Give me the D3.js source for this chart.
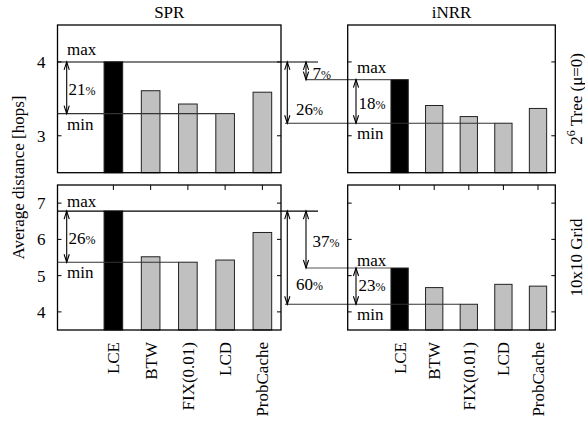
<!DOCTYPE html>
<html>
<head>
<meta charset="utf-8">
<script src="https://cdn.jsdelivr.net/npm/d3@7"></script>
<style>
  html, body { margin: 0; padding: 0; background: #fff; }
  svg { display: block; }
  text { font-family: "Liberation Serif", "Times New Roman", serif; fill: #000; }
</style>
</head>
<body>
<svg id="chart" width="585" height="428"></svg>
<script>
// ---------------- data ----------------
const categories = ["LCE", "BTW", "FIX(0.01)", "LCD", "ProbCache"];
const strategies = ["SPR", "iNRR"];
const topologies = ["2^6 Tree (μ=0)", "10x10 Grid"];

const sprTree  = [4.00, 3.61, 3.43, 3.30, 3.59];
const inrrTree = [3.76, 3.41, 3.26, 3.17, 3.37];
const sprGrid  = [6.78, 5.52, 5.37, 5.43, 6.19];
const inrrGrid = [5.21, 4.67, 4.21, 4.76, 4.71];

const treeTicks = [3, 4];
const gridTicks = [4, 5, 6, 7];
const treeDomain = [2.5, 4.5];
const gridDomain = [3.5, 7.5];

// percentage labels: [SPR max-min, iNRR max-min, SPR max vs iNRR max, SPR max vs iNRR min]
const treePercents = ["21", "18", "7", "26"];
const gridPercents = ["26", "23", "37", "60"];

// ---------------- layout ----------------
const svg = d3.select("#chart");
const colX = [{x0: 57.5, x1: 281}, {x0: 347.7, x1: 555.3}];
const rowY = [{y0: 25, y1: 172.7}, {y0: 185, y1: 330}];
const FS = 17;

const rows = [
  {vals: [sprTree, inrrTree], ticks: treeTicks, domain: treeDomain, pct: treePercents, maxOff: [7, 7]},
  {vals: [sprGrid, inrrGrid], ticks: gridTicks, domain: gridDomain, pct: gridPercents, maxOff: [4, 2.5]}
];

function arrow(g, x, ya, yb) {
  const top = Math.min(ya, yb), bot = Math.max(ya, yb);
  const h = 8, w = 2.6;
  g.append("line").attr("x1", x).attr("x2", x).attr("y1", top).attr("y2", bot)
    .attr("stroke", "#000").attr("stroke-width", 1.1);
  g.append("path")
    .attr("d", `M${x - w},${top + h}L${x},${top}L${x + w},${top + h}M${x - w},${bot - h}L${x},${bot}L${x + w},${bot - h}`)
    .attr("fill", "none").attr("stroke", "#000").attr("stroke-width", 1.1);
}

function pctText(g, x, y, num) {
  const t = g.append("text").attr("x", x).attr("y", y).style("font-size", FS + "px");
  t.append("tspan").text(num);
  t.append("tspan").style("font-size", "12px").text("%");
}

rows.forEach((row, ri) => {
  const ry = rowY[ri];
  const y = d3.scaleLinear().domain(row.domain).range([ry.y1, ry.y0]);
  const xs = colX.map(c => d3.scaleLinear().domain([-1.5, 4.5]).range([c.x0, c.x1]));
  const bws = xs.map(x => (x(1) - x(0)) * 0.5);

  const mins = row.vals.map(v => d3.min(v));
  const maxs = row.vals.map(v => d3.max(v));
  const minIdx = row.vals.map(v => v.indexOf(d3.min(v)));
  const g = svg.append("g");

  // bars
  row.vals.forEach((vals, ci) => {
    const x = xs[ci];
    g.selectAll(null).data(vals).enter().append("rect")
      .attr("x", (d, i) => x(i) - bws[ci] / 2)
      .attr("width", bws[ci])
      .attr("y", d => y(d))
      .attr("height", d => ry.y1 - y(d))
      .attr("fill", (d, i) => i === 0 ? "#000" : "#c0c0c0")
      .attr("stroke", "#222").attr("stroke-width", 1);
  });

  const xL = xs[0], xR = xs[1];
  // SPR reference lines
  g.append("line").attr("x1", colX[0].x0).attr("x2", 318)
    .attr("y1", y(maxs[0])).attr("y2", y(maxs[0])).attr("stroke", "#000").attr("stroke-width", 1.1);
  g.append("line").attr("x1", colX[0].x0).attr("x2", xL(minIdx[0]) - bws[0] / 2)
    .attr("y1", y(mins[0])).attr("y2", y(mins[0])).attr("stroke", "#333").attr("stroke-width", 1.1);
  // iNRR reference lines
  g.append("line").attr("x1", 306).attr("x2", xR(0) - bws[1] / 2)
    .attr("y1", y(maxs[1])).attr("y2", y(maxs[1])).attr("stroke", "#555").attr("stroke-width", 1.1);
  g.append("line").attr("x1", 285).attr("x2", xR(minIdx[1]) - bws[1] / 2)
    .attr("y1", y(mins[1])).attr("y2", y(mins[1])).attr("stroke", "#333").attr("stroke-width", 1.1);

  // arrows
  arrow(g, 66.7, y(maxs[0]), y(mins[0]));
  arrow(g, 356, y(maxs[1]), y(mins[1]));
  arrow(g, 306, y(maxs[0]), y(maxs[1]));
  arrow(g, 287.3, y(maxs[0]), y(mins[1]));

  // percent labels
  pctText(g, 68.5, (y(maxs[0]) + y(mins[0])) / 2 + 7, row.pct[0]);
  pctText(g, 358.5, (y(maxs[1]) + y(mins[1])) / 2 + (ri === 0 ? 8 : 5), row.pct[1]);
  pctText(g, 312.5, ri === 0 ? y(maxs[1]) - 1 : (y(maxs[0]) + y(maxs[1])) / 2 + 7, row.pct[2]);
  pctText(g, 296, y(mins[1]) - (ri === 0 ? 8.5 : 14), row.pct[3]);

  // max/min labels
  [0, 1].forEach(ci => {
    const tx = ci === 0 ? 67 : 357;
    g.append("text").attr("x", tx).attr("y", y(maxs[ci]) - row.maxOff[ci])
      .style("font-size", FS + "px").text("max");
    g.append("text").attr("x", tx).attr("y", y(mins[ci]) + 16)
      .style("font-size", FS + "px").text("min");
  });

  // panel frames + ticks
  colX.forEach((c, ci) => {
    const fg = svg.append("g");
    fg.append("rect").attr("x", c.x0).attr("y", ry.y0).attr("width", c.x1 - c.x0).attr("height", ry.y1 - ry.y0)
      .attr("fill", "none").attr("stroke", "#000").attr("stroke-width", 1.3);
    row.ticks.forEach(t => {
      fg.append("line").attr("x1", c.x0).attr("x2", c.x0 + 4).attr("y1", y(t)).attr("y2", y(t)).attr("stroke", "#000");
      fg.append("line").attr("x1", c.x1 - 4).attr("x2", c.x1).attr("y1", y(t)).attr("y2", y(t)).attr("stroke", "#000");
    });
    if (ri === 1) {
      categories.forEach((cat, i) => {
        fg.append("line").attr("x1", xs[ci](i)).attr("x2", xs[ci](i)).attr("y1", ry.y0).attr("y2", ry.y0 + 5).attr("stroke", "#000");
      });
    }
  });

  // left tick labels
  const yAxis = d3.axisLeft(y).tickValues(row.ticks).tickFormat(d3.format("d")).tickSize(0).tickPadding(0);
  const ag = svg.append("g").attr("transform", `translate(${colX[0].x0 - 12},0)`).call(yAxis);
  ag.select(".domain").remove();
  ag.attr("font-family", null).attr("font-size", null);
  ag.selectAll("text").style("font-size", FS + "px").style("font-family", '"Liberation Serif", serif').attr("fill", "#000");

  // right topology label
  const lbl = svg.append("text")
    .attr("transform", `translate(582,${(ry.y0 + ry.y1) / 2}) rotate(-90)`)
    .attr("text-anchor", "middle").style("font-size", FS + "px");
  if (ri === 0) {
    lbl.append("tspan").text("2");
    lbl.append("tspan").attr("dy", -7).style("font-size", "12px").text("6");
    lbl.append("tspan").attr("dy", 7).text(" Tree (μ=0)");
  } else {
    lbl.text(topologies[1]);
  }

  // category labels under bottom row
  if (ri === 1) {
    colX.forEach((c, ci) => {
      categories.forEach((cat, i) => {
        svg.append("text")
          .attr("transform", `translate(${xs[ci](i) + 6},342) rotate(-90)`)
          .attr("text-anchor", "end").style("font-size", FS + "px").text(cat);
      });
    });
  }
});

// column titles
strategies.forEach((s, ci) => {
  svg.append("text").attr("x", (colX[ci].x0 + colX[ci].x1) / 2).attr("y", 18)
    .attr("text-anchor", "middle").style("font-size", FS + "px").text(s);
});

// y axis title
svg.append("text")
  .attr("transform", `translate(24,${(rowY[0].y0 + rowY[1].y1) / 2}) rotate(-90)`)
  .attr("text-anchor", "middle").style("font-size", FS + "px").text("Average distance [hops]");
</script>
</body>
</html>
